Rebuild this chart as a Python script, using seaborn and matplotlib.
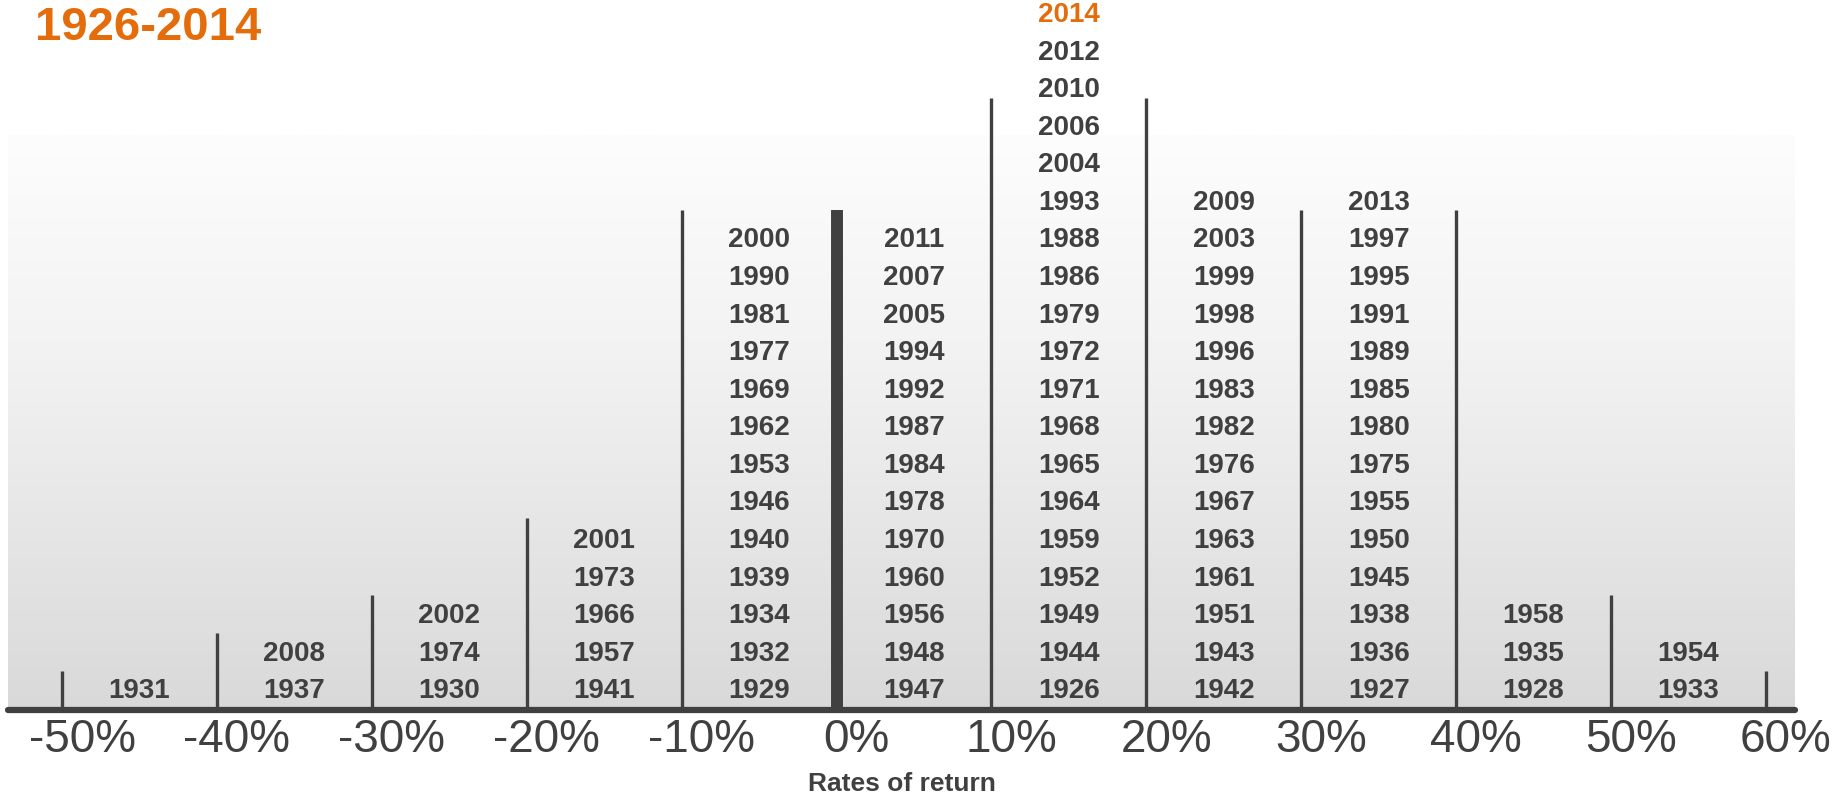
import numpy as np
import pandas as pd
import matplotlib
matplotlib.use('Agg')
import matplotlib.pyplot as plt
import matplotlib.transforms as mtransforms
from matplotlib.colors import LinearSegmentedColormap
import seaborn as sns

# bin edges (rates of return, %) and their labels
bin_edges = [-50, -40, -30, -20, -10, 0, 10, 20, 30, 40, 50, 60]
tick_labels = ['-50%', '-40%', '-30%', '-20%', '-10%', '0%',
               '10%', '20%', '30%', '40%', '50%', '60%']

# years falling in each 10% bin
years_m50 = [1931]
years_m40 = [1937, 2008]
years_m30 = [1930, 1974, 2002]
years_m20 = [1941, 1957, 1966, 1973, 2001]
years_m10 = [1929, 1932, 1934, 1939, 1940, 1946, 1953, 1962, 1969, 1977, 1981, 1990, 2000]
years_p00 = [1947, 1948, 1956, 1960, 1970, 1978, 1984, 1987, 1992, 1994, 2005, 2007, 2011]
years_p10 = [1926, 1944, 1949, 1952, 1959, 1964, 1965, 1968, 1971, 1972, 1979, 1986,
             1988, 1993, 2004, 2006, 2010, 2012, 2014]
years_p20 = [1942, 1943, 1951, 1961, 1963, 1967, 1976, 1982, 1983, 1996, 1998, 1999, 2003, 2009]
years_p30 = [1927, 1936, 1938, 1945, 1950, 1955, 1975, 1980, 1985, 1989, 1991, 1995, 1997, 2013]
years_p40 = [1928, 1935, 1958]
years_p50 = [1933, 1954]

# height of the divider lines at each edge (in rows of years)
divider_heights = [1.05, 2.05, 3.05, 5.1, 13.3, 13.3, 16.3, 16.3, 13.3, 13.3, 3.05, 1.05]
highlight_year = 2014

year_groups = [years_m50, years_m40, years_m30, years_m20, years_m10, years_p00,
               years_p10, years_p20, years_p30, years_p40, years_p50]

rows = []
for left, group in zip(bin_edges[:-1], year_groups):
    for i, yr in enumerate(sorted(group)):
        rows.append({'center': left + 5, 'row': i + 0.5, 'year': yr})
df = pd.DataFrame(rows)

gray = '#404040'
orange = '#E46C0A'

sns.set_theme(style='white')
plt.rcParams['font.family'] = ['Liberation Sans', 'DejaVu Sans']

fig = plt.figure(figsize=(18.35, 8), dpi=100)
ax = fig.add_axes([8 / 1835, 90 / 800, 1787 / 1835, 710 / 800])
xmin, xmax = -53.49, 61.88
ytop = 18.9

# soft gray gradient behind the columns (darker towards the baseline)
grad = np.linspace(0, 1, 256).reshape(-1, 1)
bg_cmap = LinearSegmentedColormap.from_list(
    'bg', [(0.0, '#d9d9d9'), (0.61, '#f2f2f2'), (1.0, '#fdfdfd')])
ax.imshow(grad, extent=(xmin, xmax, 0, 15.3), origin='lower', aspect='auto',
          cmap=bg_cmap, zorder=0)

# divider lines between bins
for edge, h in zip(bin_edges, divider_heights):
    lw = 8.6 if edge == 0 else 2.4
    ax.vlines(edge, 0, h, color=gray, lw=lw, zorder=2)

ax.axhline(0, color=gray, lw=4.5, zorder=3, clip_on=False)

# stacked year labels
for r in df.itertuples():
    ax.text(r.center, r.row, str(r.year), ha='center', va='center',
            fontsize=20, fontweight='bold',
            color=orange if r.year == highlight_year else gray, zorder=4)

ax.set_xlim(xmin, xmax)
ax.set_ylim(0, ytop)
ax.set_xticks(bin_edges)
ax.set_xticklabels(tick_labels, fontsize=33, color=gray)
ax.tick_params(axis='x', length=0, pad=6)
ax.set_yticks([])
offset = mtransforms.ScaledTranslation(0.2, 0, fig.dpi_scale_trans)
for lab in ax.get_xticklabels():
    lab.set_transform(lab.get_transform() + offset)

ax.set_xlabel('Rates of return', fontsize=19, fontweight='bold', color=gray)
ax.xaxis.set_label_coords(0.5, -0.088)
ax.xaxis.label.set_va('top')

sns.despine(ax=ax, left=True, bottom=True, right=True, top=True)

fig.text(35 / 1835, 1 - 28 / 800, '1926-2014', ha='left', va='center',
         fontsize=34, fontweight='bold', color=orange)

fig.savefig('out.png', dpi=100)
